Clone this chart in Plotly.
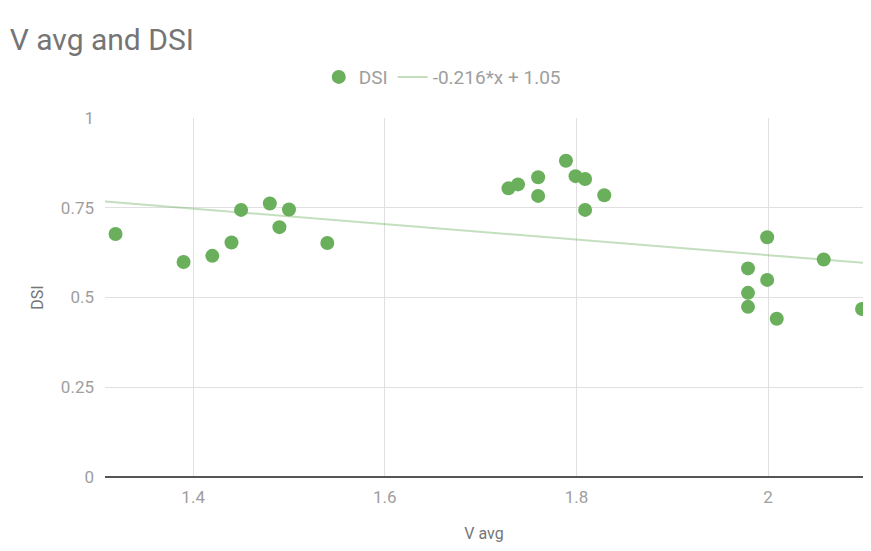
import plotly.graph_objects as go

v_avg = [1.319, 1.390, 1.420, 1.440, 1.450, 1.480, 1.490, 1.500, 1.540,
         1.729, 1.739, 1.760, 1.760, 1.789, 1.799, 1.809, 1.809, 1.829,
         1.999, 2.058, 1.979, 1.999, 1.979, 1.979, 2.009, 2.098, 2.104]
dsi = [0.677, 0.599, 0.616, 0.653, 0.744, 0.762, 0.696, 0.745, 0.652,
       0.804, 0.815, 0.835, 0.783, 0.881, 0.838, 0.830, 0.744, 0.785,
       0.668, 0.606, 0.581, 0.549, 0.513, 0.474, 0.441, 0.468, 0.474]

trend_slope = -0.216
trend_intercept = 1.05
trend_label = "-0.216*x + 1.05"

x_range = [1.308, 2.099]
x_ticks = [1.4, 1.6, 1.8, 2.0]
x_tick_labels = ["1.4", "1.6", "1.8", "2"]
y_ticks = [0, 0.25, 0.5, 0.75, 1]
y_tick_labels = ["0", "0.25", "0.5", "0.75", "1"]

trend_x = x_range
trend_y = [trend_slope * v + trend_intercept for v in trend_x]

fig = go.Figure()
fig.add_trace(go.Scatter(
    x=v_avg, y=dsi, mode="markers", name="DSI",
    marker=dict(color="#6aaf5c", size=14, line=dict(width=0)),
    cliponaxis=False,
))
fig.add_trace(go.Scatter(
    x=trend_x, y=trend_y, mode="lines", name=trend_label,
    line=dict(color="rgba(106,175,92,0.4)", width=2),
    hoverinfo="skip",
))

fig.update_layout(
    width=855, height=535,
    margin=dict(l=97, r=0, t=110, b=66),
    paper_bgcolor="white", plot_bgcolor="white",
    font=dict(family="Roboto", color="#9e9e9e", size=17),
    title=dict(text="V avg and DSI", x=0.002, xanchor="left",
               y=0.942, yanchor="middle",
               font=dict(family="Roboto", size=30, color="#757575")),
    legend=dict(orientation="h", x=0.282, xanchor="left", y=1.114,
                yanchor="middle", font=dict(family="Roboto", size=19, color="#9e9e9e"),
                itemsizing="trace", bgcolor="rgba(0,0,0,0)"),
    showlegend=True,
)
fig.update_xaxes(
    range=x_range, tickvals=x_ticks, ticktext=x_tick_labels,
    showgrid=True, gridcolor="#e0e0e0", gridwidth=1, zeroline=False,
    showline=False, ticks="", ticklabelstandoff=8, automargin=False,
    title=dict(text="V avg", standoff=34, font=dict(size=16, color="#757575")),
)
fig.update_yaxes(
    range=[0, 1], tickvals=y_ticks, ticktext=y_tick_labels,
    showgrid=True, gridcolor="#e0e0e0", gridwidth=1,
    zeroline=True, zerolinecolor="#555555", zerolinewidth=2,
    showline=False, ticks="", ticklabelstandoff=10, automargin=False,
    title=dict(text="DSI", standoff=13, font=dict(size=16, color="#757575")),
)

fig.write_html("out.html")
